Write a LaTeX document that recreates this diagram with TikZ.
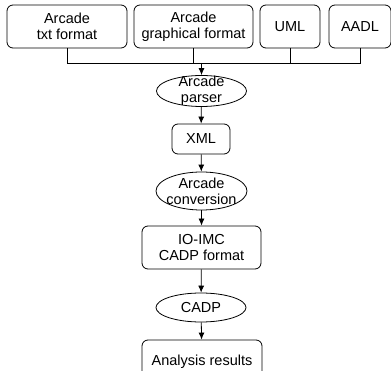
\documentclass[tikz,border=0pt]{standalone}
\usepackage{fontspec}
\setmainfont{Liberation Sans}
\usepackage{tikz}
\usetikzlibrary{
  % ellipse nodes
  shapes.geometric,%
  arrows.meta,
  positioning,
  calc
}
\tikzset{>={Latex[length=7pt,width=6pt]}}
\tikzset{font=\fontsize{14.5}{16}\selectfont}
\tikzset{
  filebox/.style={draw, rounded corners=6pt, align=center, inner sep=0pt,
    minimum height=43pt},
  toolbox/.style={draw, ellipse, align=center, inner sep=-8pt,
    minimum width=90pt},
  flow/.style={->, line width=0.8pt},
}

\begin{document}
\begin{tikzpicture}[x=1pt, y=-1pt, line width=0.8pt]
          \clip (0,0) rectangle (391,371);
          % inputs
          \node[filebox, minimum width=120pt] (txt) at (67,26.5) {Arcade\\txt format};
          \node[filebox, minimum width=119pt] (graph) at (193.5,26.5) {Arcade\\graphical format};
          \node[filebox, minimum width=60pt] (uml) at (290,26.5) {UML};
          \node[filebox, minimum width=62pt] (aadl) at (360,26.5) {AADL};
          % chain
          \node[toolbox, minimum height=31pt] (parser) at (201.5,91) {Arcade\\parser};
          \node[filebox, minimum width=58pt, minimum height=30pt] (xml) at (201,139) {XML};
          \node[toolbox, minimum width=91pt, minimum height=38pt] (conv) at (201.5,191) {Arcade\\conversion};
          \node[filebox, minimum width=119pt] (imc) at (201.5,247.5) {IO-IMC\\CADP format};
          \node[toolbox, minimum height=29pt] (cadp) at (201,307.5) {CADP};
          \node[filebox, minimum width=120pt] (res) at (202,361.5) {Analysis results};
          % bus
          \coordinate (bus) at ($(parser.north |- 0,63)$);
          \draw (txt.south) |- (aadl.south |- bus) -- (aadl.south);
          \draw (graph.south) -- (graph.south |- bus);
          \draw (uml.south) -- (uml.south |- bus);
          \draw[flow] (bus) -- (parser);
          \draw[flow] (parser) -- (xml);
          \draw[flow] (xml) -- (conv);
          \draw[flow] (conv) -- (imc);
          \draw[flow] (imc) -- (cadp);
          \draw[flow] (cadp) -- (res);
        \end{tikzpicture}
\end{document}
